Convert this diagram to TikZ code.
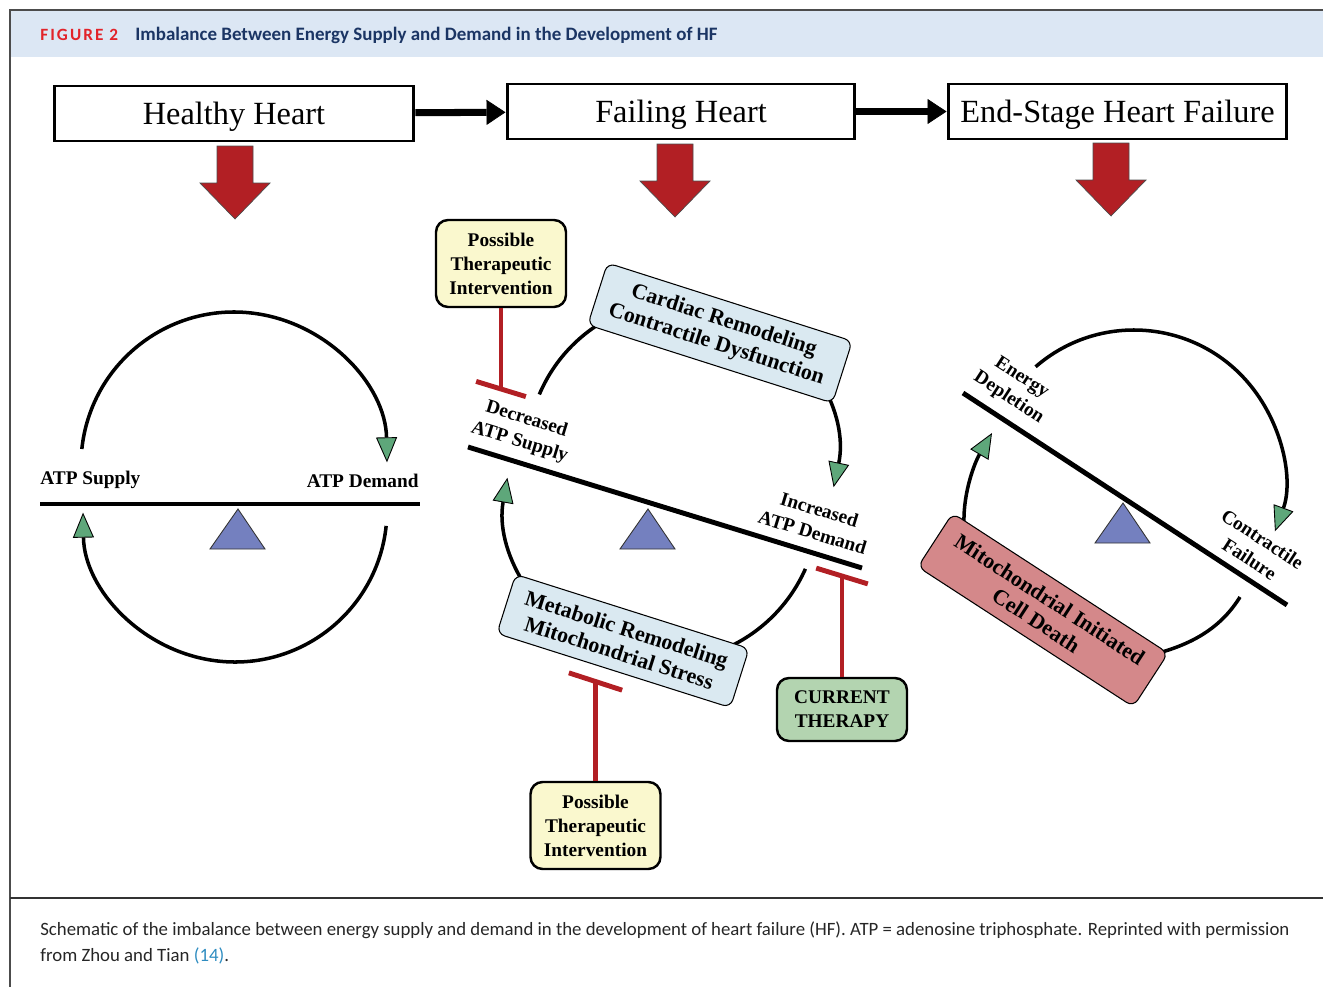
\documentclass[tikz,border=0pt]{standalone}
\usepackage{fontspec}
\setmainfont{Liberation Serif}
\newfontfamily\capfont{Carlito}
\newfontfamily\capspaced[LetterSpace=12]{Carlito}
\usetikzlibrary{arrows.meta,calc}

\definecolor{headerblue}{HTML}{DCE7F4}
\definecolor{figred}{HTML}{E2232A}
\definecolor{navy}{HTML}{1B3564}
\definecolor{blockred}{HTML}{B21F24}
\definecolor{loopgreen}{HTML}{5EA77A}
\definecolor{fulcrumblue}{HTML}{7480BF}
\definecolor{cardiacblue}{HTML}{DAE9F1}
\definecolor{ptiyellow}{HTML}{FAF8CE}
\definecolor{ctgreen}{HTML}{B3D4B0}
\definecolor{mitopink}{HTML}{D4888A}
\definecolor{refblue}{HTML}{2E8CC0}

% red block arrow under a stage box, #1 = top of the shaft
\newcommand{\hfdown}[1]{\filldraw[fill=blockred,draw=black!70,line width=0.4pt] ($(#1)+(-18,0)$) -- ++(36,0) -- ++(0,37) -- ++(17,0) -- ++(-35,36) -- ++(-35,-36) -- ++(17,0) -- cycle;}
% fulcrum triangle, #1 = apex
\newcommand{\fulcrum}[1]{\filldraw[fill=fulcrumblue,draw=black!80,line width=0.5pt] (#1) -- ++(27,40) -- ++(-55,0) -- cycle;}

\begin{document}
\begin{tikzpicture}[x=0.02cm,y=-0.02cm,
	headbox/.style={draw,line width=1.7pt,minimum height=1.1cm,inner sep=0pt,text depth=0pt,font=\fontsize{18.4}{20}\selectfont},
	steparrow/.style={line width=4pt,-{Triangle[length=0.38cm,width=0.5cm,line width=0.4pt]}},
	beam/.style={line width=2.8pt},
	loop/.style={line width=2pt,-{Triangle[length=0.5cm,width=0.42cm,fill=loopgreen,line width=0.5pt]}},
	lbl/.style={font=\bfseries\fontsize{11}{13.6}\selectfont,align=center,inner sep=0pt},
	tiltbox/.style={draw,line width=0.6pt,rounded corners=0.16cm,align=center,inner sep=0pt,font=\bfseries\fontsize{12.5}{14.2}\selectfont},
	ptibox/.style={draw,line width=1.4pt,rounded corners=0.24cm,align=center,inner sep=0pt,minimum width=2.6cm,font=\bfseries\fontsize{11}{13.6}\selectfont},
	inhib/.style={draw=blockred,line width=2.8pt}]
	\useasboundingbox (0,0) rectangle (1323,987);
	% frame and header band
	\fill[headerblue] (10,11) rectangle (1323,57);
	\draw[black!70,line width=0.6pt] (10,987) -- (10,10) -- (1323,10);
	\draw[black!80,line width=1pt] (10,898) -- (1323,898);
	\node[anchor=west,inner sep=0pt,text=figred,font=\capspaced\bfseries\fontsize{9.8}{11}\selectfont] (figno) at (40,35) {FIGURE 2};
	\node[anchor=west,inner sep=0pt,text=navy,font=\capfont\bfseries\fontsize{10.8}{12}\selectfont] (figtitle) at (135,35) {Imbalance Between Energy Supply and Demand in the Development of HF};
	% stages
	\node[headbox,minimum width=7.2cm] (healthy) at (234,113.5) {Healthy Heart};
	\node[headbox,minimum width=6.96cm] (failing) at (681,111.5) {Failing Heart};
	\node[headbox,minimum width=6.78cm] (endstage) at (1117.5,111.5) {End-Stage Heart Failure};
	\draw[steparrow] (healthy) -- (failing);
	\draw[steparrow] (failing) -- (endstage);
	\coordinate (hd) at (235,146);
	\coordinate (fd) at (675,144);
	\coordinate (ed) at (1111,143);
	\hfdown{hd}
	\hfdown{fd}
	\hfdown{ed}
	% healthy balance
	\coordinate (hctop) at (234,465);
	\coordinate (hcbot) at (235,510);
	\draw[loop] (hctop) ++(-174:153) arc[start angle=-174,end angle=-1,radius=153];
	\draw[loop] (hcbot) ++(6:152) arc[start angle=6,end angle=179,radius=152];
	\draw[beam] (40,504) -- (420,504);
	\coordinate (hf) at (238,509);
	\fulcrum{hf}
	\node[lbl,anchor=west] (hsup) at (40,480) {ATP Supply};
	\node[lbl,anchor=east] (hdem) at (419,481) {ATP Demand};
	% failing balance
	\coordinate (fctop) at (682,455);
	\coordinate (fcbot) at (662,505);
	\draw[loop] (fctop) ++(-157:155) arc[start angle=-157,end angle=12,radius=155];
	\draw[loop] (fcbot) ++(24:157) arc[start angle=24,end angle=190,radius=157];
	\draw[beam] (468,447) -- (862,568);
	\coordinate (ff) at (648,509);
	\fulcrum{ff}
	\node[lbl,rotate=-17] (fsup) at (523,431) {Decreased\\ATP Supply};
	\node[lbl,rotate=-17] (fdem) at (816,521) {Increased\\ATP Demand};
	\node[tiltbox,fill=cardiacblue,rotate=-17.7,minimum width=5.14cm,minimum height=1.3cm] (cardiac) at (720,333) {Cardiac Remodeling\\Contractile Dysfunction};
	\node[tiltbox,fill=cardiacblue,rotate=-17.6,minimum width=4.9cm,minimum height=1.24cm] (metabolic) at (623,641) {Metabolic Remodeling\\Mitochondrial Stress};
	\node[ptibox,fill=ptiyellow,minimum height=1.74cm] (ptitop) at (501,263.5) {Possible\\Therapeutic\\Intervention};
	\node[ptibox,fill=ptiyellow,minimum height=1.74cm] (ptibot) at (595.5,825.5) {Possible\\Therapeutic\\Intervention};
	\node[ptibox,fill=ctgreen,minimum height=1.26cm] (current) at (842,709.5) {CURRENT\\THERAPY};
	\coordinate (tbtop) at (501,389);
	\coordinate (tbbot) at (595.5,681.5);
	\coordinate (tbcur) at (842,576);
	\draw[inhib] (ptitop) -- (tbtop);
	\draw[inhib] ($(tbtop)+(17:26)$) -- ($(tbtop)+(197:26)$);
	\draw[inhib] (ptibot) -- (tbbot);
	\draw[inhib] ($(tbbot)+(18:28)$) -- ($(tbbot)+(198:28)$);
	\draw[inhib] (current) -- (tbcur);
	\draw[inhib] ($(tbcur)+(17:27)$) -- ($(tbcur)+(197:27)$);
	% end-stage balance
	\coordinate (ectop) at (1134,480);
	\draw[loop] (ectop) ++(-131:150) arc[start angle=-131,end angle=20,radius=150];
	\draw[line width=2pt] (1240,597) .. controls (1222,626) and (1196,642) .. (1162,652);
	\draw[loop] (964,524) .. controls (963,492) and (975,462) .. (992,433);
	\draw[beam] (963,393) -- (1287,605);
	\coordinate (ef) at (1123,503);
	\fulcrum{ef}
	\node[lbl,rotate=-33] (edep) at (1015,388) {Energy\\Depletion};
	\node[lbl,rotate=-33] (efail) at (1256,549) {Contractile\\Failure};
	\node[tiltbox,fill=mitopink,rotate=-33,minimum width=5.14cm,minimum height=1.28cm] (mito) at (1043,610) {Mitochondrial Initiated\\Cell Death};
	% caption
	\node[anchor=north west,inner sep=0pt,align=left,text=black!85,font=\capfont\fontsize{10.7}{15.3}\selectfont] (caption) at (40,921) {Schematic of the imbalance between energy supply and demand in the development of heart failure (HF). ATP = adenosine triphosphate. Reprinted with permission\\from Zhou and Tian \textcolor{refblue}{(14)}.};
\end{tikzpicture}
\end{document}
